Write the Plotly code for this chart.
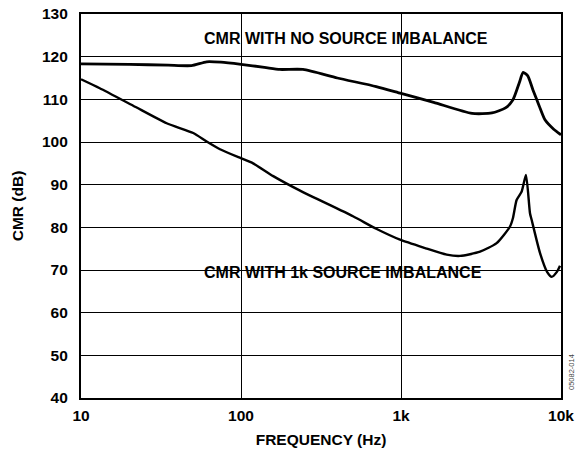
import plotly.graph_objects as go

# CMR with no source imbalance
freq_no = [10, 20, 35, 49, 61, 75, 100, 140, 175, 244, 400, 700, 1000, 1600, 2780, 3700, 4500, 5010, 5500, 5800, 6200, 6680, 7300, 7940, 9000, 10000]
cmr_no = [118.3, 118.2, 118.0, 117.9, 118.8, 118.7, 118.2, 117.5, 117.0, 117.0, 115.0, 113.0, 111.4, 109.3, 106.7, 106.8, 108.0, 109.9, 114.0, 116.3, 115.5, 112.2, 108.5, 105.2, 103.0, 101.7]

# CMR with 1k source imbalance
freq_1k = [10, 13.1, 21.2, 34.3, 50.3, 61, 73.9, 99.6, 119, 159, 234, 501, 705, 986, 1400, 1930, 2340, 3120, 3960, 4800, 5010, 5280, 5680, 6040, 6400, 6560, 7390, 8200, 8750, 9400, 9860]
cmr_1k = [114.7, 112.6, 108.5, 104.4, 102.1, 100.1, 98.3, 96.2, 95.0, 92.0, 88.6, 82.6, 79.6, 77.1, 75.2, 73.6, 73.3, 74.3, 76.3, 80.2, 82.2, 86.4, 88.4, 92.3, 83.3, 81.7, 74.0, 69.5, 68.4, 69.5, 71.0]

x_tickvals = [10, 100, 1000, 10000]
x_ticktext = ["10", "100", "1k", "10k"]
y_tickvals = [40, 50, 60, 70, 80, 90, 100, 110, 120, 130]
y_ticktext = [str(v) for v in y_tickvals]

label_no = "CMR WITH NO SOURCE IMBALANCE"
label_1k = "CMR WITH 1k SOURCE IMBALANCE"
fig_code = "05082-014"

FONT = "Liberation Sans, Arial, sans-serif"

# plot area in pixels (layout)
W, H = 578, 455
L, R, T, B = 81, 17, 14, 57
PW, PH = W - L - R, H - T - B


def px_x(x):
    return (x - L) / PW


def px_y(y):
    return (H - B - y) / PH


fig = go.Figure()
fig.add_trace(go.Scatter(x=freq_no, y=cmr_no, mode="lines",
                         line=dict(color="black", width=2.8, shape="spline", smoothing=0.6),
                         showlegend=False, hoverinfo="skip"))
fig.add_trace(go.Scatter(x=freq_1k, y=cmr_1k, mode="lines",
                         line=dict(color="black", width=2.4, shape="spline", smoothing=0.6),
                         showlegend=False, hoverinfo="skip"))

fig.update_layout(
    width=W, height=H,
    margin=dict(l=L, r=R, t=T, b=B, autoexpand=False),
    paper_bgcolor="white", plot_bgcolor="white",
    font=dict(family=FONT, color="black"),
    xaxis=dict(type="log", range=[1, 4], tickvals=x_tickvals,
               ticktext=["<b>%s</b>" % t for t in x_ticktext],
               showgrid=True, gridcolor="black", gridwidth=1.2,
               showline=True, linecolor="black", linewidth=2.2, mirror=True,
               ticks="", ticklabelstandoff=2, automargin=False,
               tickfont=dict(size=15.5, family=FONT),
               title=dict(text="<b>FREQUENCY (Hz)</b>", font=dict(size=15.5, family=FONT), standoff=11),
               zeroline=False),
    yaxis=dict(range=[40, 130], tickvals=y_tickvals,
               ticktext=["<b>%s</b>" % t for t in y_ticktext],
               showgrid=True, gridcolor="black", gridwidth=1.2,
               showline=True, linecolor="black", linewidth=2.2, mirror=True,
               ticks="", ticklabelstandoff=8, automargin=False,
               tickfont=dict(size=15.5, family=FONT),
               title=dict(text="<b>CMR (dB)</b>", font=dict(size=15.5, family=FONT), standoff=14),
               zeroline=False),
)

# white boxes that break the gridlines behind the labels (drawn under the curves)
fig.add_shape(type="rect", xref="paper", yref="paper", layer="between",
              x0=px_x(198), x1=px_x(493), y0=px_y(50), y1=px_y(25),
              fillcolor="white", line=dict(width=0))
fig.add_shape(type="rect", xref="paper", yref="paper", layer="between",
              x0=px_x(198), x1=px_x(487), y0=px_y(284), y1=px_y(247),
              fillcolor="white", line=dict(width=0))

fig.add_annotation(xref="paper", yref="paper", x=px_x(346), y=px_y(38),
                   xanchor="center", yanchor="middle", text="<b>" + label_no + "</b>",
                   showarrow=False, font=dict(size=16, family=FONT, color="black"))
fig.add_annotation(xref="paper", yref="paper", x=px_x(343), y=px_y(272),
                   xanchor="center", yanchor="middle", text="<b>" + label_1k + "</b>",
                   showarrow=False, font=dict(size=16, family=FONT, color="black"))
fig.add_annotation(xref="paper", yref="paper", x=px_x(571), y=px_y(392),
                   xanchor="center", yanchor="bottom", text=fig_code, textangle=-90,
                   showarrow=False, font=dict(size=7.5, family=FONT, color="#444"))

fig.write_html("out.html", config={"displayModeBar": False},
               post_script="document.body.style.margin='0';document.body.style.padding='0';")
